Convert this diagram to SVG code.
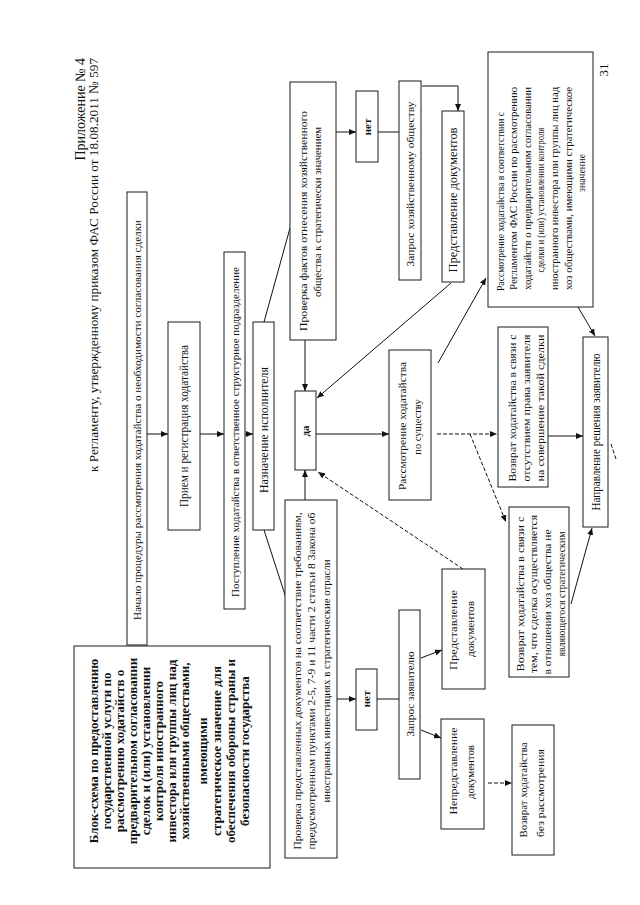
<svg xmlns="http://www.w3.org/2000/svg" width="640" height="905" viewBox="0 0 640 905">
<defs>
<style>
.bg{fill:#ffffff}
.box{fill:#ffffff;stroke:#1a1a1a;stroke-width:1}
.t{font-family:"Liberation Serif",serif;font-size:10.5px;fill:#111;text-anchor:middle}
.s{text-anchor:start}
.bd{font-weight:bold}
.ln{stroke:#111;stroke-width:1;fill:none}
.dash{stroke-dasharray:4 2}
</style>
<marker id="ah" markerUnits="userSpaceOnUse" markerWidth="8" markerHeight="6" refX="7" refY="3" orient="auto">
<path d="M0,0 L7,3 L0,6 z" fill="#111"/>
</marker>
</defs>
<rect class="bg" x="0" y="0" width="640" height="905"/>

<g id="header">
<text class="t" style="font-size:14px;text-anchor:end" transform="translate(85,58) rotate(-90)">Приложение № 4</text>
<text class="t s" style="font-size:13.5px" textLength="414" lengthAdjust="spacingAndGlyphs" transform="translate(98,472) rotate(-90)">к Регламенту, утвержденному приказом ФАС России от 18.08.2011  № 597</text>
<text class="t" style="font-size:13px" transform="translate(608,70) rotate(-90)">31</text>
</g>

<g id="connectors">
<line class="ln" x1="147" y1="434" x2="168" y2="434" marker-end="url(#ah)"/>
<line class="ln" x1="200" y1="434" x2="224" y2="434" marker-end="url(#ah)"/>
<line class="ln" x1="245" y1="434" x2="253" y2="434" marker-end="url(#ah)"/>
<line class="ln" x1="264" y1="322" x2="290" y2="228"/>
<line class="ln" x1="264" y1="530" x2="286" y2="598"/>
<line class="ln" x1="305" y1="340" x2="305" y2="391" marker-end="url(#ah)"/>
<line class="ln" x1="305" y1="500" x2="305" y2="470" marker-end="url(#ah)"/>
<line class="ln" x1="316" y1="434" x2="389" y2="434" marker-end="url(#ah)"/>
<line class="ln" x1="336" y1="132" x2="356" y2="132" marker-end="url(#ah)"/>
<line class="ln" x1="378" y1="132" x2="399" y2="132"/>
<path class="ln" d="M422,86 H458 V111" marker-end="url(#ah)"/>
<line class="ln" x1="451" y1="283" x2="317" y2="398" marker-end="url(#ah)"/>
<line class="ln" x1="438" y1="363" x2="486" y2="278" marker-end="url(#ah)"/>
<line class="ln" x1="578" y1="307" x2="595" y2="336" marker-end="url(#ah)"/>
<line class="ln dash" x1="437" y1="434" x2="497" y2="434" marker-end="url(#ah)"/>
<line class="ln dash" x1="470" y1="434" x2="506" y2="522" marker-end="url(#ah)"/>
<line class="ln" x1="548" y1="436" x2="583" y2="436" marker-end="url(#ah)"/>
<line class="ln" x1="571" y1="604" x2="592" y2="528" marker-end="url(#ah)"/>
<line class="ln dash" x1="611" y1="444" x2="616" y2="459"/>
<line class="ln dash" x1="463" y1="569" x2="318" y2="472" marker-end="url(#ah)"/>
<line class="ln" x1="337" y1="699" x2="356" y2="699" marker-end="url(#ah)"/>
<line class="ln" x1="377" y1="699" x2="399" y2="699"/>
<line class="ln" x1="421" y1="658" x2="442" y2="650" marker-end="url(#ah)"/>
<line class="ln" x1="421" y1="730" x2="441" y2="738" marker-end="url(#ah)"/>
<line class="ln dash" x1="488" y1="783" x2="512" y2="783" marker-end="url(#ah)"/>
</g>

<g id="title">
<rect class="box" x="74" y="646" width="196" height="222"/>
<text class="t bd" style="font-size:13px" transform="translate(97.5,751) rotate(-90)">Блок-схема по предоставлению</text>
<text class="t bd" style="font-size:13px" transform="translate(110.5,751) rotate(-90)">государственной услуги по</text>
<text class="t bd" style="font-size:13px" transform="translate(123.5,751) rotate(-90)">рассмотрению ходатайств о</text>
<text class="t bd" style="font-size:13px" transform="translate(136.5,751) rotate(-90)">предварительном согласовании</text>
<text class="t bd" style="font-size:13px" transform="translate(149.5,751) rotate(-90)">сделок и (или) установлении</text>
<text class="t bd" style="font-size:13px" transform="translate(162.5,751) rotate(-90)">контроля  иностранного</text>
<text class="t bd" style="font-size:13px" transform="translate(175.5,751) rotate(-90)">инвестора или группы лиц над</text>
<text class="t bd" style="font-size:13px" transform="translate(188.5,751) rotate(-90)">хозяйственными обществами,</text>
<text class="t bd" style="font-size:13px" transform="translate(206.5,751) rotate(-90)">имеющими</text>
<text class="t bd" style="font-size:13px" transform="translate(220.5,751) rotate(-90)">стратегическое значение для</text>
<text class="t bd" style="font-size:13px" transform="translate(234.5,751) rotate(-90)">обеспечения обороны страны и</text>
<text class="t bd" style="font-size:13px" transform="translate(248.5,751) rotate(-90)">безопасности государства</text>
</g>

<g id="n-start">
<rect class="box" x="127" y="192" width="20" height="453"/>
<text class="t" textLength="400" lengthAdjust="spacingAndGlyphs" transform="translate(140.5,420) rotate(-90)">Начало процедуры рассмотрения ходатайства о необходимости согласования сделки</text>
</g>

<g id="n-reg">
<rect class="box" x="168" y="322" width="32" height="208"/>
<text class="t" style="font-size:11.5px" textLength="162" lengthAdjust="spacingAndGlyphs" transform="translate(188,426) rotate(-90)">Прием и регистрация ходатайства</text>
</g>

<g id="n-receipt">
<rect class="box" x="224" y="252" width="21" height="357"/>
<text class="t" style="font-size:11px" textLength="330" lengthAdjust="spacingAndGlyphs" transform="translate(238.5,432) rotate(-90)">Поступление ходатайства в ответственное структурное подразделение</text>
</g>

<g id="n-assign">
<rect class="box" x="253" y="322" width="21" height="208"/>
<text class="t" style="font-size:11.5px" textLength="126" lengthAdjust="spacingAndGlyphs" transform="translate(268,430) rotate(-90)">Назначение исполнителя</text>
</g>

<g id="n-check-facts">
<rect class="box" x="290" y="82" width="46" height="258"/>
<text class="t" textLength="220" lengthAdjust="spacingAndGlyphs" transform="translate(306.5,221) rotate(-90)">Проверка фактов  отнесения хозяйственного</text>
<text class="t" textLength="170" lengthAdjust="spacingAndGlyphs" transform="translate(320.5,212) rotate(-90)">общества к стратегически значением</text>
</g>

<g id="n-yes">
<rect class="box" x="295" y="391" width="21" height="79"/>
<text class="t bd" style="font-size:11px" transform="translate(309,431) rotate(-90)">да</text>
</g>

<g id="n-check-docs">
<rect class="box" x="285" y="500" width="52" height="358"/>
<text class="t" textLength="337" lengthAdjust="spacingAndGlyphs" transform="translate(300.5,681) rotate(-90)">Проверка представленных документов на соответствие требованиям,</text>
<text class="t" textLength="337" lengthAdjust="spacingAndGlyphs" transform="translate(314.5,681) rotate(-90)">предусмотренным пунктами 2-5, 7-9 и 11 части 2 статьи 8 Закона об</text>
<text class="t" textLength="243" lengthAdjust="spacingAndGlyphs" transform="translate(329.5,681) rotate(-90)">иностранных инвестициях в стратегические отрасли</text>
</g>

<g id="n-no-top">
<rect class="box" x="356" y="91" width="22" height="71"/>
<text class="t bd" style="font-size:11px" transform="translate(371,127) rotate(-90)">нет</text>
</g>

<g id="n-request-company">
<rect class="box" x="399" y="81" width="22" height="199"/>
<text class="t" style="font-size:11px" textLength="165" lengthAdjust="spacingAndGlyphs" transform="translate(414,184) rotate(-90)">Запрос хозяйственному обществу</text>
</g>

<g id="n-docs-top">
<rect class="box" x="442" y="111" width="22" height="171"/>
<text class="t" style="font-size:11.5px" textLength="145" lengthAdjust="spacingAndGlyphs" transform="translate(457,200) rotate(-90)">Представление документов</text>
</g>

<g id="n-reglament">
<rect class="box" x="488" y="52" width="105" height="255"/>
<text class="t s" style="font-size:10px" textLength="179" lengthAdjust="spacingAndGlyphs" transform="translate(503.5,291) rotate(-90)">Рассмотрение ходатайства в соответствии с</text>
<text class="t s" style="font-size:10px" textLength="203" lengthAdjust="spacingAndGlyphs" transform="translate(516.5,290) rotate(-90)">Регламентом ФАС России по рассмотрению</text>
<text class="t s" style="font-size:10px" textLength="203" lengthAdjust="spacingAndGlyphs" transform="translate(530.5,290) rotate(-90)">ходатайств о предварительном согласовании</text>
<text class="t" style="font-size:10px" textLength="145" lengthAdjust="spacingAndGlyphs" transform="translate(543.5,200) rotate(-90)">сделки и (или) установлении контроля</text>
<text class="t s" style="font-size:10px" textLength="203" lengthAdjust="spacingAndGlyphs" transform="translate(557.5,290) rotate(-90)">иностранного инвестора или группы лиц над</text>
<text class="t s" style="font-size:10px" textLength="203" lengthAdjust="spacingAndGlyphs" transform="translate(571.5,290) rotate(-90)">хоз обществами, имеющими стратегическое</text>
<text class="t" style="font-size:10px" transform="translate(584.5,173) rotate(-90)">значение</text>
</g>

<g id="n-merits">
<rect class="box" x="389" y="350" width="42" height="150"/>
<text class="t" textLength="128" lengthAdjust="spacingAndGlyphs" transform="translate(405.5,426) rotate(-90)">Рассмотрение ходатайства</text>
<text class="t" transform="translate(420.5,427) rotate(-90)">по существу</text>
</g>

<g id="n-return-right">
<rect class="box" x="498" y="327" width="50" height="160"/>
<text class="t" style="font-size:10px" textLength="147" lengthAdjust="spacingAndGlyphs" transform="translate(515.5,408) rotate(-90)">Возврат ходатайства в связи с</text>
<text class="t" style="font-size:10px" textLength="147" lengthAdjust="spacingAndGlyphs" transform="translate(529.5,408) rotate(-90)">отсутствием права заявителя</text>
<text class="t" style="font-size:10px" textLength="147" lengthAdjust="spacingAndGlyphs" transform="translate(543.5,408) rotate(-90)">на совершение такой сделки</text>
</g>

<g id="n-decision">
<rect class="box" x="583" y="337" width="25" height="190"/>
<text class="t" style="font-size:11.5px" textLength="157" lengthAdjust="spacingAndGlyphs" transform="translate(600,432) rotate(-90)">Направление решения заявителю</text>
</g>

<g id="n-return-notstrategic">
<rect class="box" x="509" y="507" width="60" height="170"/>
<text class="t" style="font-size:10px" textLength="155" lengthAdjust="spacingAndGlyphs" transform="translate(523.5,594) rotate(-90)">Возврат ходатайства в связи с</text>
<text class="t" style="font-size:10px" textLength="158" lengthAdjust="spacingAndGlyphs" transform="translate(536.5,594) rotate(-90)">тем, что сделка осуществляется</text>
<text class="t" style="font-size:10px" textLength="145" lengthAdjust="spacingAndGlyphs" transform="translate(550.5,602) rotate(-90)">в отношении хоз общества не</text>
<text class="t" style="font-size:10px" textLength="125" lengthAdjust="spacingAndGlyphs" transform="translate(564.5,594) rotate(-90)">являющегося стратегическим</text>
</g>

<g id="n-no-bottom">
<rect class="box" x="356" y="669" width="21" height="61"/>
<text class="t bd" style="font-size:11px" transform="translate(370,699) rotate(-90)">нет</text>
</g>

<g id="n-request-applicant">
<rect class="box" x="399" y="610" width="21" height="169"/>
<text class="t" style="font-size:11px" textLength="85" lengthAdjust="spacingAndGlyphs" transform="translate(414,694) rotate(-90)">Запрос заявителю</text>
</g>

<g id="n-docs-bottom">
<rect class="box" x="442" y="569" width="43" height="120"/>
<text class="t" style="font-size:11px" textLength="80" lengthAdjust="spacingAndGlyphs" transform="translate(457,630) rotate(-90)">Представление</text>
<text class="t" style="font-size:11px" textLength="56" lengthAdjust="spacingAndGlyphs" transform="translate(474,629) rotate(-90)">документов</text>
</g>

<g id="n-nodocs">
<rect class="box" x="441" y="719" width="43" height="110"/>
<text class="t" style="font-size:11px" textLength="87" lengthAdjust="spacingAndGlyphs" transform="translate(457,771) rotate(-90)">Непредставление</text>
<text class="t" style="font-size:11px" textLength="54" lengthAdjust="spacingAndGlyphs" transform="translate(474,772) rotate(-90)">документов</text>
</g>

<g id="n-return-noreview">
<rect class="box" x="512" y="725" width="42" height="130"/>
<text class="t" style="font-size:11px" textLength="95" lengthAdjust="spacingAndGlyphs" transform="translate(527,790) rotate(-90)">Возврат ходатайства</text>
<text class="t" style="font-size:11px" textLength="88" lengthAdjust="spacingAndGlyphs" transform="translate(544,793) rotate(-90)">без рассмотрения</text>
</g>
</svg>
